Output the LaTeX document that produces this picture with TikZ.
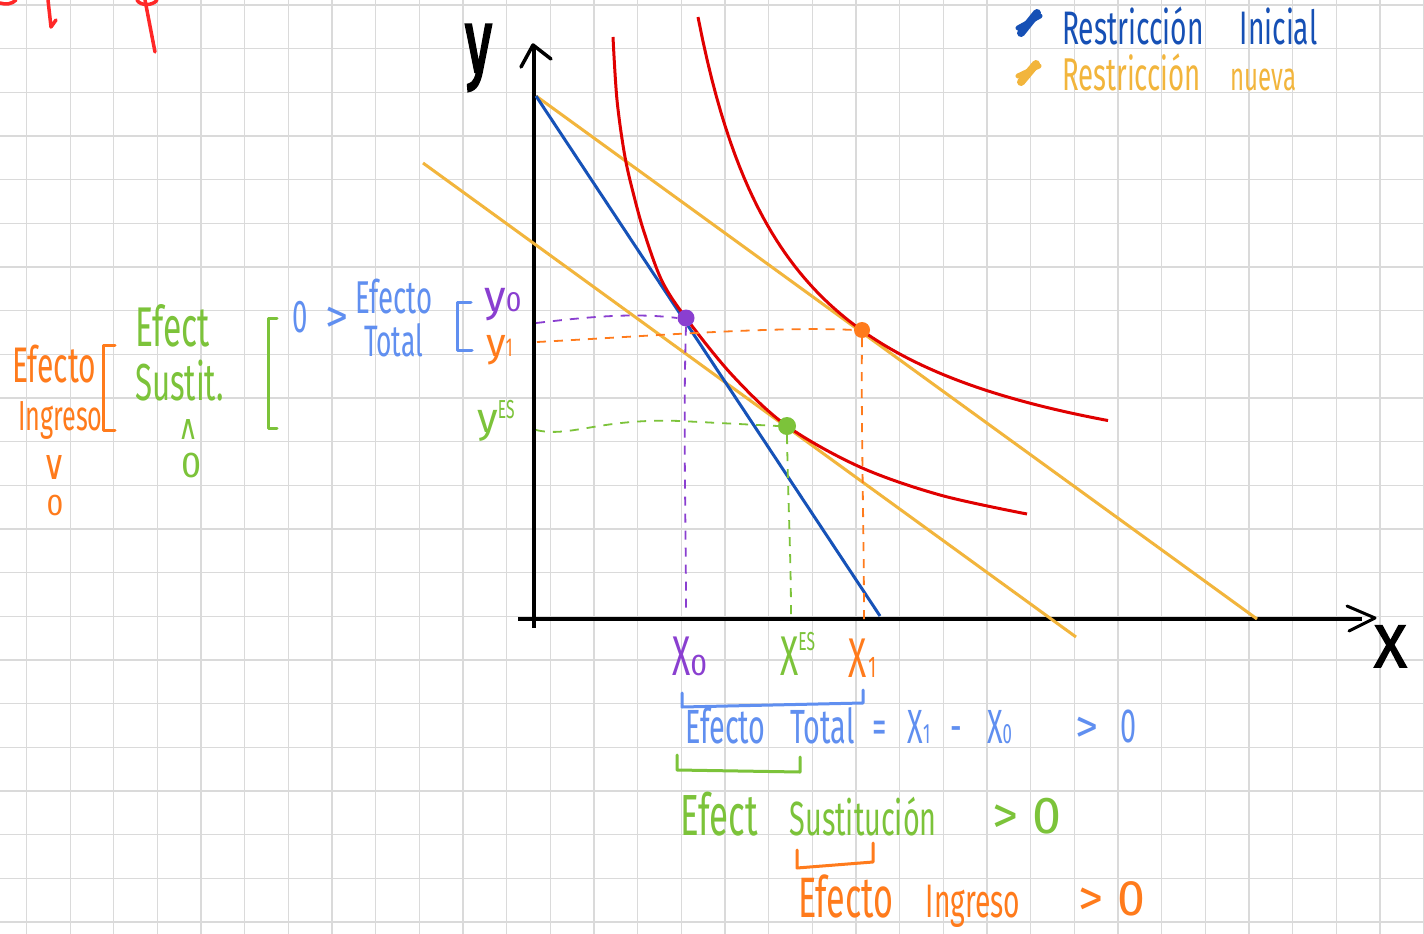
\documentclass[tikz,border=0pt]{standalone}
\usepackage{fontspec}
\setmainfont{Fira Sans}
\newfontfamily\hand[FakeStretch=0.6]{Fira Sans}
\newfontfamily\handn{Fira Sans}
\newfontfamily\handyb[FakeStretch=0.6,FakeBold=2.5]{Fira Sans}
\newfontfamily\handxb[FakeBold=2.5]{Fira Sans}
\newfontfamily\symf{DejaVu Sans}
\newcommand{\hs}[1]{\fontsize{#1}{#1}\selectfont\hand}
\newcommand{\hn}[1]{\fontsize{#1}{#1}\selectfont\handn}
\newcommand{\lo}[2]{{\fontsize{#1}{#1}\selectfont #2}}
\definecolor{gridc}{RGB}{218,218,218}
\definecolor{legblue}{RGB}{22,80,181}
\definecolor{lineblue}{RGB}{22,82,184}
\definecolor{ltblue}{RGB}{96,143,240}
\definecolor{ylw}{RGB}{242,181,60}
\definecolor{crv}{RGB}{224,0,0}
\definecolor{org}{RGB}{255,123,28}
\definecolor{prp}{RGB}{138,63,208}
\definecolor{grn}{RGB}{124,195,58}
\definecolor{scrib}{RGB}{255,40,40}
\begin{document}
\begin{tikzpicture}[x=1pt,y=-1pt,
  txt/.style={inner sep=0pt, anchor=base west},
  ctr/.style={inner sep=0pt, anchor=center},
  gridline/.style={draw=gridc, line width=1.3pt},
  axisline/.style={draw=black, line width=3.2pt},
  budget/.style={line width=3pt},
  icurve/.style={draw=crv, line width=3pt},
  guide/.style={line width=1.8pt, dash pattern=on 9pt off 8pt},
  bk/.style={line width=3pt, line cap=round, line join=round},
  dot/.style={circle, inner sep=0pt, minimum size=17pt}
]
\useasboundingbox (0,0) rectangle (1424,934);
\fill[white] (0,0) rectangle (1424,934);
% grid
\foreach \i in {0,...,32} \draw[gridline] ({26.5+43.66*\i},0) -- ({26.5+43.66*\i},934);
\foreach \j in {0,...,21} \draw[gridline] (0,{5+43.66*\j}) -- (1424,{5+43.66*\j});

% red scribbles top-left
\draw[scrib, line width=3.5pt, line cap=round] (0,3) .. controls (6,5) and (12,4) .. (16,0);
\draw[scrib, line width=3.5pt, line cap=round, line join=round] (48,0) -- (51,27) -- (56,20);
\draw[scrib, line width=3.5pt, line cap=round] (137,0) .. controls (140,6) and (153,6) .. (157,0);
\draw[scrib, line width=3.5pt, line cap=round] (145,0) -- (155,52);

% legend
\draw[legblue, line width=8pt, line cap=round] (1021,33) -- (1037,13);
\draw[legblue, line width=5pt, line cap=round] (1018,28) -- (1040,16);
\draw[ylw, line width=8pt, line cap=round] (1021,82) -- (1036,64);
\draw[ylw, line width=5pt, line cap=round] (1018,76) -- (1039,66);
\node[txt, text=legblue] (leg1) at (1062,45) {\hs{47}Restricción\hspace{36pt}Inicial};
\node[txt, text=ylw] (leg2) at (1062,90) {\hs{46}Restricción\hspace{30pt}\lo{40}{nueva}};

% coordinates
\coordinate (yb) at (534,628);
\coordinate (yt) at (534,48);
\coordinate (xl) at (518,619);
\coordinate (xr) at (1362,619);
\coordinate (A) at (536,96);
\coordinate (B) at (880,616);
\coordinate (C) at (1257,619);
\coordinate (D) at (423,163);
\coordinate (E) at (1076,637);

% axes
\draw[axisline] (yb) -- (yt);
\draw[black, line width=3.5pt, line cap=round, line join=round] (521,67) -- (533,45) -- (551,59);
\draw[axisline] (xl) -- (xr);
\draw[black, line width=3pt, line cap=round, line join=round] (1347,606) -- (1375,618) -- (1349,631);
\node[txt, text=black] (ylab) at (465,72) {\fontsize{90}{90}\selectfont\handyb y};
\node[txt, text=black] (xlab) at (1374,667) {\fontsize{60}{60}\selectfont\handxb X};

% budget lines
\draw[budget, ylw] (A) -- (C);
\draw[budget, ylw] (D) -- (E);
\draw[budget, lineblue] (A) -- (B);

% indifference curves
\draw[icurve] plot[smooth, tension=0.55] coordinates {(613,37) (617,100) (625,157) (635,200) (645,235) (662,281) (686,318) (733,376) (787,426) (860,467) (940,495) (1027,514)};
\draw[icurve] plot[domain=698:1108, samples=90] (\x, {516-484/((\x-601)/100)});

% points
\node[dot, fill=prp] (P0) at (686,318) {};
\node[dot, fill=org, minimum size=16pt] (P1) at (862,330) {};
\node[dot, fill=grn, minimum size=18pt] (PE) at (787,426) {};
\coordinate (P0y) at (536,323);
\coordinate (P0x) at (686,613);
\coordinate (P1y) at (537,342);
\coordinate (P1x) at (864,619);
\coordinate (PEy) at (536,430);
\coordinate (PEx) at (791,615);

% guides
\draw[guide, prp] (P0y) .. controls (580,318) and (630,312) .. (P0.west);
\draw[guide, prp] (P0.south) .. controls (683,420) and (686,520) .. (P0x);
\draw[guide, org] (P1y) .. controls (650,336) and (780,326) .. (P1.west);
\draw[guide, org] (P1.south) .. controls (861,430) and (864,530) .. (P1x);
\draw[guide, grn] (PEy) .. controls (570,438) and (600,418) .. (680,421) -- (PE.west);
\draw[guide, grn] (PE.south) .. controls (788,500) and (791,560) .. (PEx);

% axis labels
\node[txt, text=prp] (y0) at (484,311) {\hn{44}y\lo{28}{0}};
\node[txt, text=org] (y1) at (486,356) {\hn{40}y\lo{26}{\hand 1}};
\node[txt, text=grn] (yes) at (477,432) {\hn{42}y\raisebox{14pt}{\hs{26}ES}};
\node[txt, text=prp] (x0) at (672,675) {\hs{56}X\lo{30}{\handn 0}};
\node[txt, text=grn] (xes) at (780,675) {\hs{56}X\raisebox{25pt}{\hs{26}ES}};
\node[txt, text=org] (x1) at (848,677) {\hs{56}X\hspace{2pt}\lo{30}{1}};

% left annotations: blue
\node[txt, text=ltblue] (zb) at (292,332) {\hs{46}0\hspace{18pt}\handn >};
\node[txt, text=ltblue] (etb) at (355,313) {\hs{46}Efecto};
\node[txt, text=ltblue] (ttb) at (364,356) {\hs{44}Total};
\draw[bk, ltblue] (471,302) -- (457,302) -- (457,350) -- (472,350);

% left annotations: green
\node[txt, text=grn] (efg) at (135,346) {\hs{56}Efect};
\node[txt, text=grn] (sug) at (135,400) {\hs{52}Sustit.};
\node[ctr, text=grn] (gw) at (188,429) {\resizebox{20pt}{20pt}{\symf ∧}};
\node[ctr, text=grn] (g0) at (192,465) {\hn{36}0};
\draw[bk, grn] (277,318) -- (268,318) -- (268,428) -- (277,428);

% left annotations: orange
\node[txt, text=org] (efo) at (12,382) {\hs{50}Efecto};
\node[txt, text=org] (ino) at (18,430) {\hs{42}Ingreso};
\draw[bk, org] (115,345) -- (103,345) -- (103,430) -- (115,430);
\node[ctr, text=org] (ov) at (55,467) {\resizebox{24pt}{24pt}{\symf ∨}};
\node[ctr, text=org] (o0) at (55,505) {\hn{30}0};

% bottom: total effect
\draw[bk, ltblue] (682,693) -- (682,707) -- (863,703) -- (863,690);
\node[txt, text=ltblue] (etot) at (685,743) {\hs{48}Efecto\hspace{25pt}Total};
\node[txt, text=ltblue] (eqt) at (872,743) {\hs{48}=\hspace{21pt}X\lo{28}{1}\hspace{20pt}-\hspace{25pt}X\lo{28}{0}};
\node[txt, text=ltblue] (gtt) at (1075,742) {\hn{46}>\hspace{22pt}\hs{48}0};

% bottom: substitution effect
\draw[bk, grn] (677,755) -- (677,770) -- (800,772) -- (800,757);
\node[txt, text=grn] (esu) at (680,835) {\hs{58}Efect\hspace{32pt}\lo{48}{Sustitución}};
\node[txt, text=grn] (gts) at (992,833) {\hn{52}>\hspace{14pt}0};

% bottom: income effect
\draw[bk, org] (797,850) -- (797,868) -- (873,862) -- (873,843);
\node[txt, text=org] (ein) at (798,917) {\hs{57}Efecto\hspace{32pt}\lo{47}{Ingreso}};
\node[txt, text=org] (gti) at (1078,915) {\hn{50}>\hspace{14pt}0};
\end{tikzpicture}
\end{document}
